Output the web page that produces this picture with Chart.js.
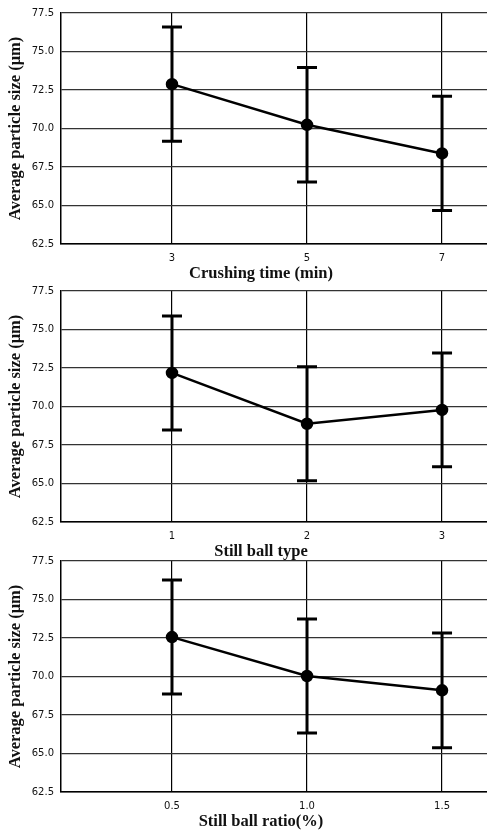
<!DOCTYPE html>
<html>
<head>
<meta charset="utf-8">
<script src="https://cdn.jsdelivr.net/npm/chart.js@4"></script>
<style>
    html, body { margin: 0; padding: 0; background: #fff; overflow: hidden; }
    body { width: 487px; height: 830px; position: relative; }
    .panel { position: absolute; left: 0; width: 487px; height: 285px; }
</style>
</head>
<body>
<div class="panel" style="top:0"><canvas id="chart-crushing"></canvas></div>
<div class="panel" style="top:278px"><canvas id="chart-type"></canvas></div>
<div class="panel" style="top:548px"><canvas id="chart-ratio"></canvas></div>
<script>
    'use strict';

    // values
    const crushingLabels = ['3', '5', '7'];
    const crushingMean   = [72.88, 70.24, 68.38];
    const crushingErr    = [3.71, 3.72, 3.71];

    const typeLabels = ['1', '2', '3'];
    const typeMean   = [72.18, 68.88, 69.78];
    const typeErr    = [3.70, 3.70, 3.70];

    const ratioLabels = ['0.5', '1.0', '1.5'];
    const ratioMean   = [72.56, 70.03, 69.10];
    const ratioErr    = [3.70, 3.70, 3.72];

    const yTicks  = [62.5, 65.0, 67.5, 70.0, 72.5, 75.0, 77.5];
    const yTitle  = 'Average particle size (μm)';

    const TICK_FONT  = { family: 'DejaVu Sans', size: 10 };
    const TITLE_FONT = { family: 'Liberation Serif', size: 16.5, weight: 'bold' };

    // error bars, drawn under the line and the markers
    const errorBars = {
        id: 'errorBars',
        beforeDatasetsDraw(chart) {
            const { ctx, scales: { x, y } } = chart;
            const errs = chart.options.plugins.errorBars.err;
            const pts  = chart.data.datasets[0].data;
            ctx.save();
            ctx.strokeStyle = '#000';
            ctx.lineWidth = 3;
            pts.forEach((p, i) => {
                const px = x.getPixelForValue(p.x);
                const hi = y.getPixelForValue(p.y + errs[i]);
                const lo = y.getPixelForValue(p.y - errs[i]);
                ctx.beginPath();
                ctx.moveTo(px, hi); ctx.lineTo(px, lo);
                ctx.moveTo(px - 10, hi); ctx.lineTo(px + 10, hi);
                ctx.moveTo(px - 10, lo); ctx.lineTo(px + 10, lo);
                ctx.stroke();
            });
            ctx.restore();
        },
    };

    // x axis title, centred a bit left of the plot centre like the original
    const xTitle = {
        id: 'xTitle',
        afterDraw(chart) {
            const { ctx } = chart;
            const text = chart.options.plugins.xTitle.text;
            ctx.save();
            ctx.font = `bold ${TITLE_FONT.size}px "${TITLE_FONT.family}"`;
            ctx.fillStyle = '#111';
            ctx.textAlign = 'center';
            ctx.textBaseline = 'middle';
            ctx.fillText(text, (35 + chart.width) / 2, 274);
            ctx.restore();
        },
    };

    function makeChart(id, labels, mean, err, title) {
        const data = mean.map((v, i) => ({ x: i, y: v }));
        return new Chart(document.getElementById(id), {
            type: 'line',
            data: {
                datasets: [{
                    data,
                    borderColor: '#000',
                    borderWidth: 2.5,
                    backgroundColor: '#000',
                    pointRadius: 5,
                    pointHoverRadius: 5,
                    tension: 0,
                }],
            },
            options: {
                responsive: true,
                maintainAspectRatio: false,
                animation: false,
                events: [],
                layout: { autoPadding: false, padding: { top: 12, left: 0, right: 0, bottom: 0 } },
                plugins: {
                    legend: { display: false },
                    tooltip: { enabled: false },
                    errorBars: { err },
                    xTitle: { text: title },
                },
                scales: {
                    x: {
                        type: 'linear',
                        min: -0.822,
                        max: 2.333,
                        afterBuildTicks: s => { s.ticks = labels.map((_, i) => ({ value: i })); },
                        afterFit: s => { s.height = 41; s.paddingLeft = 0; s.paddingRight = 0; },
                        ticks: {
                            callback: v => labels[v] ?? '',
                            font: TICK_FONT,
                            color: '#111',
                            padding: 8,
                            maxRotation: 0,
                            autoSkip: false,
                        },
                        grid: { color: '#000', lineWidth: 1.2, drawTicks: false },
                        border: { color: '#000', width: 1.5 },
                    },
                    y: {
                        min: yTicks[0],
                        max: yTicks[yTicks.length - 1],
                        afterBuildTicks: s => { s.ticks = yTicks.map(v => ({ value: v })); },
                        afterFit: s => { s.width = 61; },
                        ticks: {
                            callback: v => v.toFixed(1),
                            font: TICK_FONT,
                            color: '#111',
                            padding: 7,
                        },
                        grid: { color: '#333', lineWidth: 1.3, drawTicks: false },
                        border: { color: '#000', width: 1.5 },
                        title: {
                            display: true,
                            text: yTitle,
                            font: TITLE_FONT,
                            color: '#111',
                            padding: { top: 6, bottom: 0 },
                        },
                    },
                },
            },
            plugins: [errorBars, xTitle],
        });
    }

    makeChart('chart-crushing', crushingLabels, crushingMean, crushingErr, 'Crushing time (min)');
    makeChart('chart-type', typeLabels, typeMean, typeErr, 'Still ball type');
    makeChart('chart-ratio', ratioLabels, ratioMean, ratioErr, 'Still ball ratio(%)');
</script>
</body>
</html>
